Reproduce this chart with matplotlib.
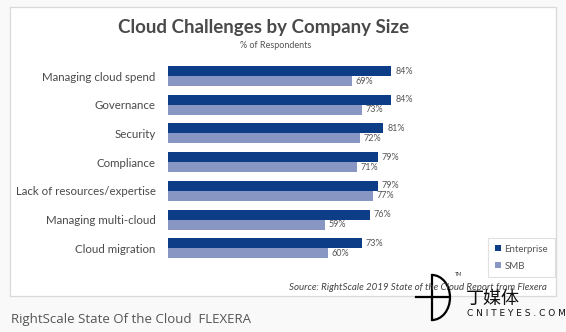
import matplotlib.pyplot as plt
from matplotlib.patches import Rectangle, Arc
from matplotlib.lines import Line2D

categories = ["Managing cloud spend", "Governance", "Security", "Compliance",
              "Lack of resources/expertise", "Managing multi-cloud", "Cloud migration"]
enterprise = [84, 84, 81, 79, 79, 76, 73]
smb = [69, 73, 72, 71, 77, 59, 60]
series_names = ["Enterprise", "SMB"]

W, H = 566, 332
ENT_COLOR = "#0d3d86"
SMB_COLOR = "#8796c2"
TEXT = "#4a4a4a"

plt.rcParams['font.family'] = ['Lato', 'DejaVu Sans']

fig = plt.figure(figsize=(W / 100, H / 100), dpi=100)
fig.patch.set_facecolor("#f9f9f9")


def fx(px):
    return px / W


def fy(py):
    return 1 - py / H


# white card with thin border
fig.add_artist(Rectangle((fx(10), fy(296)), fx(546), (296 - 7) / H,
                         transform=fig.transFigure, facecolor="white",
                         edgecolor="#d9d9d9", linewidth=0.9, zorder=0))

fig.text(fx(264), fy(28), "Cloud Challenges by Company Size", ha="center", va="center",
         fontsize=13.5, fontweight="bold", color=TEXT)
fig.text(fx(276), fy(46), "% of Respondents", ha="center", va="center",
         fontsize=6.5, color="#555555")

# bars
pitch = 28.7
top = 66 - 0.15 * pitch
ax = fig.add_axes([fx(168), fy(top + 7 * pitch), fx(266), 7 * pitch / H])
ax.patch.set_alpha(0)
h = 0.35
ys = list(range(len(categories)))
ax.barh([y - h / 2 for y in ys], enterprise, height=h, color=ENT_COLOR, label=series_names[0])
ax.barh([y + h / 2 for y in ys], smb, height=h, color=SMB_COLOR, label=series_names[1])
for y, e, s in zip(ys, enterprise, smb):
    ax.text(e + 1.4, y - h / 2, f"{e}%", va="center", ha="left", fontsize=6.5, color="#555555")
    ax.text(s + 1.4, y + h / 2, f"{s}%", va="center", ha="left", fontsize=6.5, color="#555555")

ax.set_xlim(0, 100)
ax.set_ylim(6.5, -0.5)
ax.set_yticks(ys)
ax.set_yticklabels(categories, fontsize=8.3, color=TEXT)
ax.tick_params(axis="y", length=0, pad=9)
ax.set_xticks([])
for sp in ax.spines.values():
    sp.set_visible(False)

leg = fig.legend(loc="upper left", bbox_to_anchor=(fx(488), fy(238)), borderaxespad=0,
                 fontsize=7, frameon=True, fancybox=False, edgecolor="#d9d9d9",
                 handlelength=0.6, handleheight=0.6, handletextpad=0.4,
                 labelspacing=0.8, borderpad=0.7)
leg.get_frame().set_linewidth(0.8)
for t in leg.get_texts():
    t.set_color("#555555")

fig.text(fx(547), fy(287), "Source: RightScale 2019 State of the Cloud Report from Flexera",
         ha="right", va="center", fontsize=7, style="italic", color="#444444")

# caption under the card
fig.text(fx(11), fy(320), "RightScale State Of the Cloud  FLEXERA", ha="left", va="center",
         fontsize=9.5, color="#555555", family=["Open Sans", "DejaVu Sans"])

# watermark
fig.add_artist(Line2D([fx(432), fx(432)], [fy(275), fy(320)], transform=fig.transFigure,
                      color="black", linewidth=1.6))
fig.add_artist(Line2D([fx(416), fx(448)], [fy(297), fy(297)], transform=fig.transFigure,
                      color="black", linewidth=1.6))
fig.add_artist(Arc((fx(432), fy(297.5)), fx(36), 45 / H, theta1=-90, theta2=90,
                   transform=fig.transFigure, color="black", linewidth=1.6))
fig.text(fx(455), fy(275), "TM", fontsize=3.5, color="#333333", ha="left", va="center")
fig.text(fx(466), fy(299), "丁媒体", fontsize=13, color="#111111", ha="left", va="center",
         family=["Noto Sans CJK SC", "DejaVu Sans"])
fig.text(fx(467), fy(314), "C N I T E Y E S . C O M", fontsize=6.5, color="#111111",
         ha="left", va="center", family=["DejaVu Sans"])

fig.savefig("out.png", dpi=100, facecolor=fig.get_facecolor())
